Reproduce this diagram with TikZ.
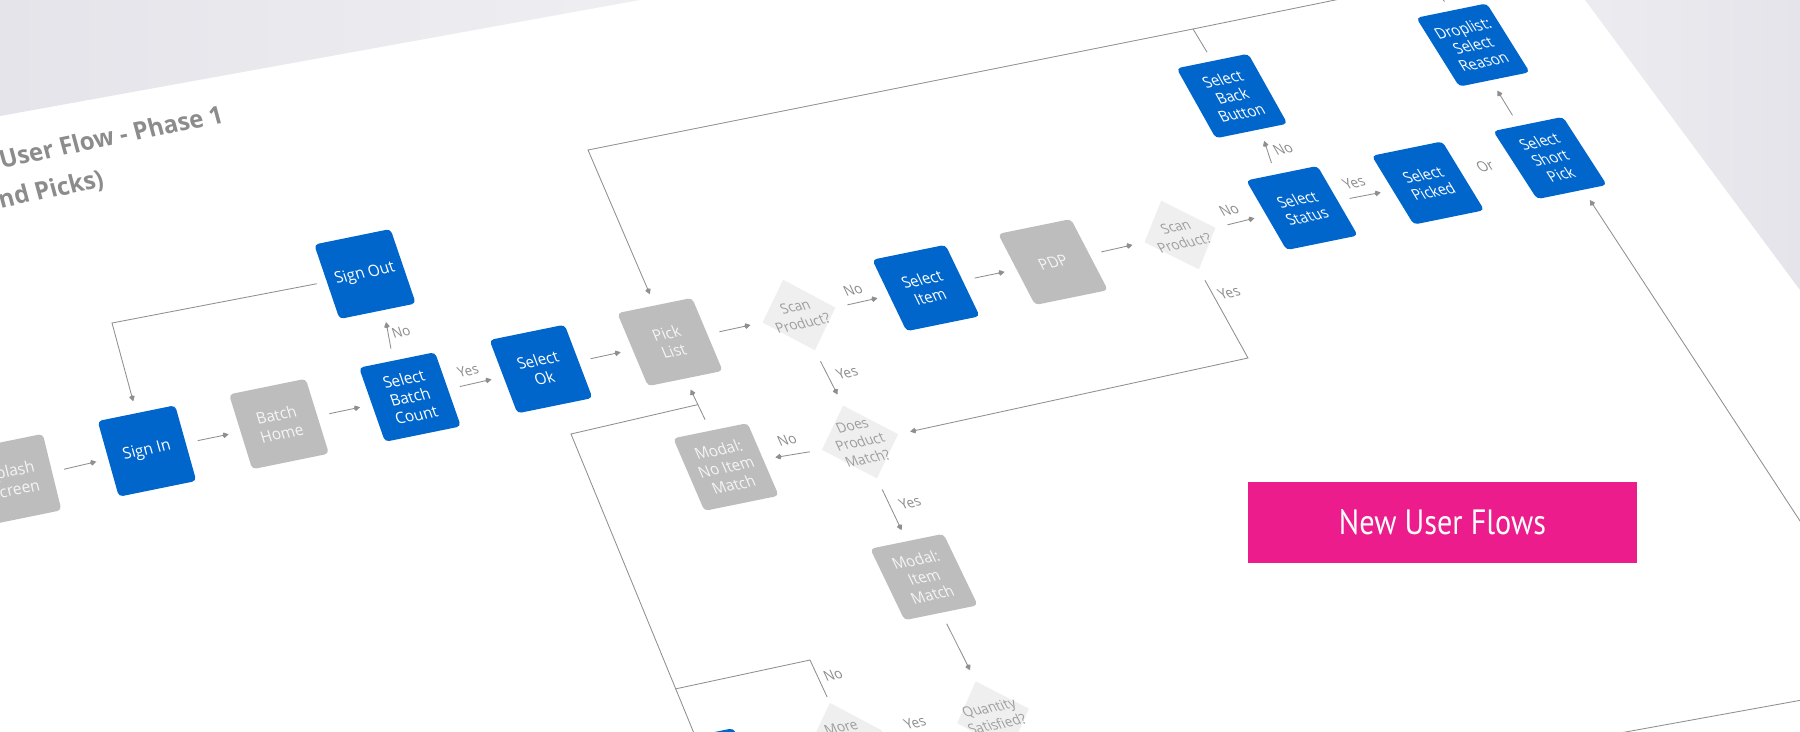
\documentclass[tikz,border=0pt]{standalone}
\usepackage{fontspec}
\setmainfont{Open Sans}
\newfontfamily\bannerfont{PT Sans}
\usetikzlibrary{shapes.geometric,arrows.meta,calc}
\definecolor{flowblue}{HTML}{0066CC}
\definecolor{cardgray}{HTML}{BDBDBD}
\definecolor{qgray}{HTML}{EFEFEF}
\definecolor{wiregray}{HTML}{8F8F8F}
\definecolor{inkgray}{HTML}{8C8C8C}
\definecolor{banner}{HTML}{EC1C8C}
\definecolor{deskgray}{HTML}{E4E4EA}
\begin{document}
\begin{tikzpicture}[x=0.025cm,y=-0.025cm,
    tilt/.style 2 args={scale=#2,cm={0.98,0.2,-#1,1,(0,0)}},
    card/.style={rectangle,rounded corners=3pt,minimum width=1.975cm,minimum height=1.89cm,
      inner sep=1pt,align=center,font=\fontsize{11}{13}\selectfont},
    bluecard/.style={card,fill=flowblue,text=white},
    greycard/.style={card,fill=cardgray,text=white!96!black},
    decision/.style={diamond,fill=qgray,text=black!38,minimum width=1.95cm,minimum height=1.85cm,
      inner sep=-6pt,align=center,font=\fontsize{10}{12.5}\selectfont},
    answer/.style={text=inkgray,font=\fontsize{9.5}{11}\selectfont,inner sep=1pt},
    wire/.style={draw=wiregray,line width=0.6pt},
    flow/.style={wire,-{Kite[length=4.5pt,width=4pt]},shorten <=0.3cm,shorten >=0.3cm}]
  \useasboundingbox (0,0) rectangle (1800,731);
  \clip (0,0) rectangle (1800,731);
  \fill[white] (0,0) rectangle (1800,731);
  % desk behind the sheet
  \shade[left color=deskgray,right color=deskgray!60] (0,0) -- (640,0) -- (0,116) -- cycle;
  \shade[left color=deskgray!70,right color=deskgray] (1585,0) -- (1800,0) -- (1800,290) -- cycle;

  % title
  \node[anchor=base west,text=inkgray,font=\bfseries\fontsize{17}{20}\selectfont,tilt={0.27}{1}]
    (titleone) at (-3,169) {User Flow - Phase 1};
  \node[anchor=base west,text=inkgray,font=\bfseries\fontsize{17}{20}\selectfont,tilt={0.27}{1}]
    (titletwo) at (-4,209) {nd Picks)};

  % main row
  \node[greycard,tilt={0.245}{1.01}] (splash) at (13,480) {Splash\\Screen};
  \node[bluecard,tilt={0.28}{1}] (signin) at (147,451) {Sign In};
  \node[greycard,tilt={0.31}{0.99}] (batchhome) at (279,424) {Batch\\Home};
  \node[bluecard,tilt={0.35}{0.98}] (batchcount) at (410,397) {Select\\Batch\\Count};
  \node[bluecard,tilt={0.34}{0.985}] (signout) at (365,274) {Sign Out};
  \node[bluecard,tilt={0.38}{0.97}] (selectok) at (541,369) {Select\\Ok};
  \node[greycard,tilt={0.42}{0.965}] (picklist) at (670,342) {Pick\\List};
  \node[decision,tilt={0.45}{0.955}] (scanone) at (799,315) {Scan\\Product?};
  \node[bluecard,tilt={0.48}{0.945}] (selectitem) at (926,288) {Select\\Item};
  \node[greycard,tilt={0.52}{0.94}] (pdp) at (1053,262) {PDP};
  \node[decision,tilt={0.55}{0.93}] (scantwo) at (1180,235) {Scan\\Product?};
  \node[bluecard,tilt={0.58}{0.92}] (selectstatus) at (1302,208) {Select\\Status};
  \node[bluecard,tilt={0.56}{0.925}] (backbutton) at (1232,96) {Select\\Back\\Button};
  \node[bluecard,tilt={0.61}{0.91}] (picked) at (1428,183) {Select\\Picked};
  \node[bluecard,tilt={0.645}{0.9}] (shortpick) at (1550,158) {Select\\Short\\Pick};
  \node[bluecard,tilt={0.625}{0.91}] (droplist) at (1473,45) {Droplist:\\Select\\Reason};

  % lower branch
  \node[decision,tilt={0.465}{0.95},minimum width=2.05cm,minimum height=1.92cm] (matchq) at (860,442) {Does\\Product\\Match?};
  \node[greycard,tilt={0.43}{0.96}] (nomatch) at (726,467) {Modal:\\No Item\\Match};
  \node[greycard,tilt={0.48}{0.945}] (itemmatch) at (924,577) {Modal:\\Item\\Match};
  \node[decision,tilt={0.5}{0.94}] (qtyq) at (993,716) {Quantity\\Satisfied?};
  \node[decision,tilt={0.46}{0.95}] (moreq) at (846,738) {More\\\strut};
  \node[bluecard,tilt={0.43}{0.96}] (nextcard) at (712,772) {};

  % answers
  \node[answer,tilt={0.35}{1}] (nosignout) at (401,332) {No};
  \node[answer,tilt={0.36}{1}] (yesok) at (468,371) {Yes};
  \node[answer,tilt={0.47}{1}] (noitem) at (853,290) {No};
  \node[answer,tilt={0.46}{1}] (yesmatch) at (847,373) {Yes};
  \node[answer,tilt={0.56}{1}] (nostatus) at (1229,210) {No};
  \node[answer,tilt={0.56}{1}] (yesrescan) at (1229,293) {Yes};
  \node[answer,tilt={0.58}{1}] (noback) at (1283,149) {No};
  \node[answer,tilt={0.6}{1}] (yespicked) at (1354,183) {Yes};
  \node[answer,tilt={0.63}{1}] (orshort) at (1485,166) {Or};
  \node[answer,tilt={0.45}{1}] (nonomatch) at (787,440) {No};
  \node[answer,tilt={0.48}{1}] (yesitem) at (910,503) {Yes};
  \node[answer,tilt={0.46}{1}] (nomore) at (833,675) {No};
  \node[answer,tilt={0.48}{1}] (yesqty) at (915,723) {Yes};

  % connectors
  \draw[flow] (splash.east) -- (signin.west);
  \draw[flow] (signin.east) -- (batchhome.west);
  \draw[flow] (batchhome.east) -- (batchcount.west);
  \draw[flow] (batchcount.east) -- (selectok.west);
  \draw[flow] (selectok.east) -- (picklist.west);
  \draw[flow] (picklist.east) -- (scanone.west);
  \draw[flow] (scanone.east) -- (selectitem.west);
  \draw[flow] (selectitem.east) -- (pdp.west);
  \draw[flow] (pdp.east) -- (scantwo.west);
  \draw[flow] (scantwo.east) -- (selectstatus.west);
  \draw[flow] (selectstatus.east) -- (picked.west);
  \draw[flow] ($(batchcount.north west)!0.45!(batchcount.north east)$) -- ($(signout.south west)!0.58!(signout.south east)$);
  \draw[flow] ($(selectstatus.north west)!0.41!(selectstatus.north east)$) -- ($(backbutton.south west)!0.62!(backbutton.south east)$);
  \draw[flow] ($(shortpick.north west)!0.37!(shortpick.north east)$) -- ($(droplist.south west)!0.45!(droplist.south east)$);
  \draw[flow] (scanone.south) -- (matchq.north);
  \draw[flow] (matchq.west) -- (nomatch.east);
  \draw[flow] (matchq.south) -- (itemmatch.north);
  \draw[flow] (nomatch.north) -- (picklist.south);
  \draw[flow] (itemmatch.south) -- (qtyq.north);

  % loops
  \coordinate (outcorner) at (112,323);
  \draw[flow,shorten <=0.25cm] (signout.west) -- (outcorner) -- (signin.north);
  \coordinate (topexit) at (1345,-2);
  \coordinate (topjoin) at (1193,29);
  \coordinate (topcorner) at (588,150);
  \draw[flow,shorten <=0pt] (topexit) -- (topjoin) -- (topcorner) -- (picklist.north);
  \draw[wire,shorten <=0.25cm] (backbutton.north) -- (topjoin);
  \coordinate (dropexit) at (1441,-3);
  \draw[wire,shorten <=0.28cm] (droplist.north) -- (dropexit);
  \coordinate (yescorner) at (1248,358);
  \draw[flow] (scantwo.south) -- (yescorner) -- (matchq.east);
  \coordinate (leftjoin) at ($(nomatch.north)!0.5!(picklist.south)$);
  \coordinate (leftcorner) at (571,434);
  \coordinate (leftdown) at (707,765);
  \draw[wire] (leftjoin) -- (leftcorner) -- (leftdown);
  \coordinate (morecorner) at (810,660);
  \coordinate (morejoin) at (675,689);
  \draw[wire,shorten <=0.15cm] (moreq.north) -- (morecorner) -- (morejoin);
  \coordinate (rightexit) at (1802,524);
  \draw[flow,shorten <=0pt] (rightexit) -- ($(shortpick.south west)!0.66!(shortpick.south east)$);
  \coordinate (floorleft) at (1620,733);
  \coordinate (floorright) at (1802,700);
  \draw[wire] (floorleft) -- (floorright);

  % banner
  \node[fill=banner,text=white,minimum width=9.725cm,minimum height=2.025cm,inner sep=0pt,
    font=\bannerfont\fontsize{25}{30}\selectfont] (banner) at (1442.5,522.5) {\scalebox{0.86}[1]{New User Flows}};
\end{tikzpicture}
\end{document}
